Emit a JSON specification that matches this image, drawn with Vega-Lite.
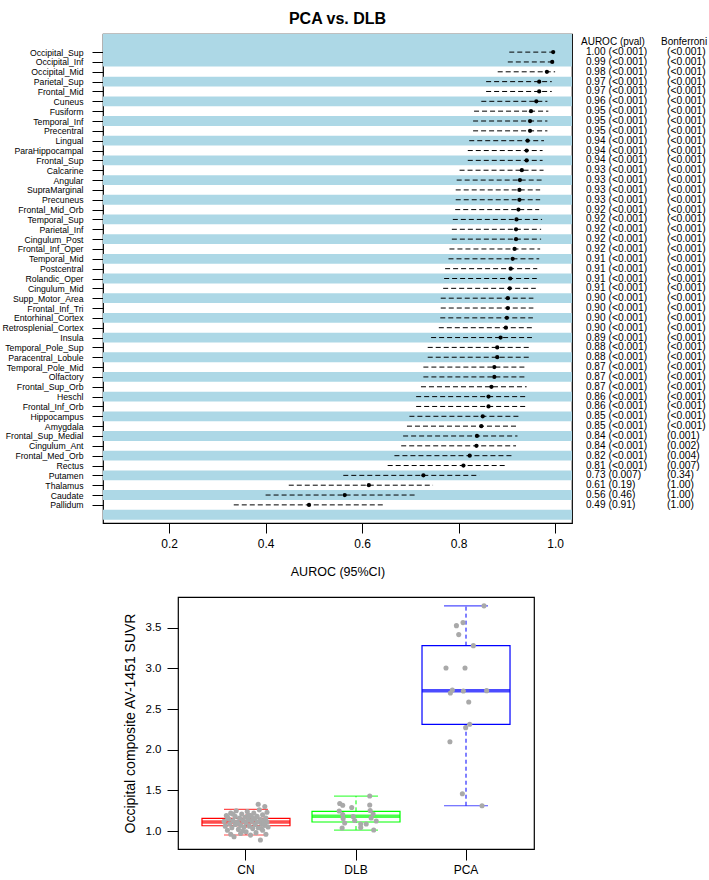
{
  "$schema": "https://vega.github.io/schema/vega-lite/v6.json",
  "background": "white",
  "padding": {"left": 1, "top": 10, "right": 0, "bottom": 0},
  "spacing": 17,
  "config": {
    "font": "Liberation Sans",
    "view": {"stroke": "black", "strokeWidth": 1.2},
    "axis": {"domain": false, "grid": false, "tickColor": "black", "labelColor": "black", "titleColor": "black", "titleFontWeight": "normal"}
  },
  "datasets": {
    "regions": [
      {"row": 1, "region": "Occipital_Sup", "auc": 0.996, "lo": 0.905, "hi": 1.0, "pval": "(<0.001)", "bonf": "(<0.001)"},
      {"row": 2, "region": "Occipital_Inf", "auc": 0.994, "lo": 0.902, "hi": 0.998, "pval": "(<0.001)", "bonf": "(<0.001)"},
      {"row": 3, "region": "Occipital_Mid", "auc": 0.983, "lo": 0.881, "hi": 1.0, "pval": "(<0.001)", "bonf": "(<0.001)"},
      {"row": 4, "region": "Parietal_Sup", "auc": 0.967, "lo": 0.857, "hi": 0.993, "pval": "(<0.001)", "bonf": "(<0.001)"},
      {"row": 5, "region": "Frontal_Mid", "auc": 0.967, "lo": 0.857, "hi": 0.993, "pval": "(<0.001)", "bonf": "(<0.001)"},
      {"row": 6, "region": "Cuneus", "auc": 0.961, "lo": 0.847, "hi": 0.984, "pval": "(<0.001)", "bonf": "(<0.001)"},
      {"row": 7, "region": "Fusiform", "auc": 0.95, "lo": 0.832, "hi": 0.986, "pval": "(<0.001)", "bonf": "(<0.001)"},
      {"row": 8, "region": "Temporal_Inf", "auc": 0.948, "lo": 0.83, "hi": 0.984, "pval": "(<0.001)", "bonf": "(<0.001)"},
      {"row": 9, "region": "Precentral", "auc": 0.948, "lo": 0.83, "hi": 0.984, "pval": "(<0.001)", "bonf": "(<0.001)"},
      {"row": 10, "region": "Lingual", "auc": 0.943, "lo": 0.822, "hi": 0.977, "pval": "(<0.001)", "bonf": "(<0.001)"},
      {"row": 11, "region": "ParaHippocampal", "auc": 0.941, "lo": 0.819, "hi": 0.974, "pval": "(<0.001)", "bonf": "(<0.001)"},
      {"row": 12, "region": "Frontal_Sup", "auc": 0.941, "lo": 0.819, "hi": 0.974, "pval": "(<0.001)", "bonf": "(<0.001)"},
      {"row": 13, "region": "Calcarine", "auc": 0.931, "lo": 0.802, "hi": 0.976, "pval": "(<0.001)", "bonf": "(<0.001)"},
      {"row": 14, "region": "Angular", "auc": 0.927, "lo": 0.796, "hi": 0.972, "pval": "(<0.001)", "bonf": "(<0.001)"},
      {"row": 15, "region": "SupraMarginal", "auc": 0.926, "lo": 0.794, "hi": 0.969, "pval": "(<0.001)", "bonf": "(<0.001)"},
      {"row": 16, "region": "Precuneus", "auc": 0.926, "lo": 0.794, "hi": 0.969, "pval": "(<0.001)", "bonf": "(<0.001)"},
      {"row": 17, "region": "Frontal_Mid_Orb", "auc": 0.924, "lo": 0.793, "hi": 0.967, "pval": "(<0.001)", "bonf": "(<0.001)"},
      {"row": 18, "region": "Temporal_Sup", "auc": 0.92, "lo": 0.788, "hi": 0.973, "pval": "(<0.001)", "bonf": "(<0.001)"},
      {"row": 19, "region": "Parietal_Inf", "auc": 0.919, "lo": 0.786, "hi": 0.971, "pval": "(<0.001)", "bonf": "(<0.001)"},
      {"row": 20, "region": "Cingulum_Post", "auc": 0.919, "lo": 0.786, "hi": 0.971, "pval": "(<0.001)", "bonf": "(<0.001)"},
      {"row": 21, "region": "Frontal_Inf_Oper", "auc": 0.916, "lo": 0.781, "hi": 0.969, "pval": "(<0.001)", "bonf": "(<0.001)"},
      {"row": 22, "region": "Temporal_Mid", "auc": 0.912, "lo": 0.779, "hi": 0.967, "pval": "(<0.001)", "bonf": "(<0.001)"},
      {"row": 23, "region": "Postcentral", "auc": 0.908, "lo": 0.772, "hi": 0.963, "pval": "(<0.001)", "bonf": "(<0.001)"},
      {"row": 24, "region": "Rolandic_Oper", "auc": 0.907, "lo": 0.77, "hi": 0.962, "pval": "(<0.001)", "bonf": "(<0.001)"},
      {"row": 25, "region": "Cingulum_Mid", "auc": 0.906, "lo": 0.768, "hi": 0.96, "pval": "(<0.001)", "bonf": "(<0.001)"},
      {"row": 26, "region": "Supp_Motor_Area", "auc": 0.902, "lo": 0.763, "hi": 0.955, "pval": "(<0.001)", "bonf": "(<0.001)"},
      {"row": 27, "region": "Frontal_Inf_Tri", "auc": 0.902, "lo": 0.763, "hi": 0.955, "pval": "(<0.001)", "bonf": "(<0.001)"},
      {"row": 28, "region": "Entorhinal_Cortex", "auc": 0.9, "lo": 0.762, "hi": 0.954, "pval": "(<0.001)", "bonf": "(<0.001)"},
      {"row": 29, "region": "Retrosplenial_Cortex", "auc": 0.898, "lo": 0.759, "hi": 0.952, "pval": "(<0.001)", "bonf": "(<0.001)"},
      {"row": 30, "region": "Insula", "auc": 0.887, "lo": 0.743, "hi": 0.952, "pval": "(<0.001)", "bonf": "(<0.001)"},
      {"row": 31, "region": "Temporal_Pole_Sup", "auc": 0.88, "lo": 0.736, "hi": 0.947, "pval": "(<0.001)", "bonf": "(<0.001)"},
      {"row": 32, "region": "Paracentral_Lobule", "auc": 0.88, "lo": 0.736, "hi": 0.947, "pval": "(<0.001)", "bonf": "(<0.001)"},
      {"row": 33, "region": "Temporal_Pole_Mid", "auc": 0.874, "lo": 0.727, "hi": 0.938, "pval": "(<0.001)", "bonf": "(<0.001)"},
      {"row": 34, "region": "Olfactory", "auc": 0.874, "lo": 0.727, "hi": 0.938, "pval": "(<0.001)", "bonf": "(<0.001)"},
      {"row": 35, "region": "Frontal_Sup_Orb", "auc": 0.868, "lo": 0.722, "hi": 0.941, "pval": "(<0.001)", "bonf": "(<0.001)"},
      {"row": 36, "region": "Heschl", "auc": 0.862, "lo": 0.712, "hi": 0.938, "pval": "(<0.001)", "bonf": "(<0.001)"},
      {"row": 37, "region": "Frontal_Inf_Orb", "auc": 0.862, "lo": 0.712, "hi": 0.938, "pval": "(<0.001)", "bonf": "(<0.001)"},
      {"row": 38, "region": "Hippocampus", "auc": 0.85, "lo": 0.698, "hi": 0.926, "pval": "(<0.001)", "bonf": "(<0.001)"},
      {"row": 39, "region": "Amygdala", "auc": 0.847, "lo": 0.693, "hi": 0.921, "pval": "(<0.001)", "bonf": "(<0.001)"},
      {"row": 40, "region": "Frontal_Sup_Medial", "auc": 0.838, "lo": 0.685, "hi": 0.922, "pval": "(<0.001)", "bonf": "(0.001)"},
      {"row": 41, "region": "Cingulum_Ant", "auc": 0.837, "lo": 0.681, "hi": 0.919, "pval": "(<0.001)", "bonf": "(0.002)"},
      {"row": 42, "region": "Frontal_Med_Orb", "auc": 0.823, "lo": 0.667, "hi": 0.912, "pval": "(<0.001)", "bonf": "(0.004)"},
      {"row": 43, "region": "Rectus", "auc": 0.81, "lo": 0.653, "hi": 0.9, "pval": "(<0.001)", "bonf": "(0.007)"},
      {"row": 44, "region": "Putamen", "auc": 0.727, "lo": 0.561, "hi": 0.843, "pval": "(0.007)", "bonf": "(0.34)"},
      {"row": 45, "region": "Thalamus", "auc": 0.614, "lo": 0.448, "hi": 0.747, "pval": "(0.19)", "bonf": "(1.00)"},
      {"row": 46, "region": "Caudate", "auc": 0.564, "lo": 0.4, "hi": 0.714, "pval": "(0.46)", "bonf": "(1.00)"},
      {"row": 47, "region": "Pallidum", "auc": 0.49, "lo": 0.334, "hi": 0.648, "pval": "(0.91)", "bonf": "(1.00)"}
    ],
    "stripes": [
      {"from": -0.84, "to": 2.45}, {"from": 3.5, "to": 4.5}, {"from": 5.5, "to": 6.5}, {"from": 7.5, "to": 8.5},
      {"from": 9.5, "to": 10.5}, {"from": 11.5, "to": 12.5}, {"from": 13.5, "to": 14.5}, {"from": 15.5, "to": 16.5},
      {"from": 17.5, "to": 18.5}, {"from": 19.5, "to": 20.5}, {"from": 21.5, "to": 22.5}, {"from": 23.5, "to": 24.5},
      {"from": 25.5, "to": 26.5}, {"from": 27.5, "to": 28.5}, {"from": 29.5, "to": 30.5}, {"from": 31.5, "to": 32.5},
      {"from": 33.5, "to": 34.5}, {"from": 35.5, "to": 36.5}, {"from": 37.5, "to": 38.5}, {"from": 39.5, "to": 40.5},
      {"from": 41.5, "to": 42.5}, {"from": 43.5, "to": 44.5}, {"from": 45.5, "to": 46.5}, {"from": 47.5, "to": 48.5}
    ],
    "headers": [
      {"column": "AUROC (pval)", "row": 0},
      {"column": "Bonferroni", "row": 0}
    ],
    "boxes": [
      {"group": "CN", "lower": 0.951, "q1": 1.065, "median": 1.11, "q3": 1.156, "upper": 1.267},
      {"group": "DLB", "lower": 1.012, "q1": 1.111, "median": 1.181, "q3": 1.242, "upper": 1.43},
      {"group": "PCA", "lower": 1.311, "q1": 2.312, "median": 2.726, "q3": 3.279, "upper": 3.768}
    ],
    "points": [
      {"group": "CN", "xpos": 0.80, "suvr": 1.12}, {"group": "CN", "xpos": 0.81, "suvr": 1.06},
      {"group": "CN", "xpos": 0.82, "suvr": 1.19}, {"group": "CN", "xpos": 0.83, "suvr": 1.01},
      {"group": "CN", "xpos": 0.84, "suvr": 1.15}, {"group": "CN", "xpos": 0.85, "suvr": 1.09},
      {"group": "CN", "xpos": 0.86, "suvr": 1.22}, {"group": "CN", "xpos": 0.86, "suvr": 0.96},
      {"group": "CN", "xpos": 0.87, "suvr": 1.04}, {"group": "CN", "xpos": 0.88, "suvr": 1.13},
      {"group": "CN", "xpos": 0.89, "suvr": 0.93}, {"group": "CN", "xpos": 0.90, "suvr": 1.18},
      {"group": "CN", "xpos": 0.90, "suvr": 1.08}, {"group": "CN", "xpos": 0.91, "suvr": 1.25},
      {"group": "CN", "xpos": 0.92, "suvr": 1.11}, {"group": "CN", "xpos": 0.93, "suvr": 1.02},
      {"group": "CN", "xpos": 0.94, "suvr": 1.16}, {"group": "CN", "xpos": 0.95, "suvr": 0.97},
      {"group": "CN", "xpos": 0.95, "suvr": 1.07}, {"group": "CN", "xpos": 0.96, "suvr": 1.21},
      {"group": "CN", "xpos": 0.97, "suvr": 1.13}, {"group": "CN", "xpos": 0.98, "suvr": 1.05},
      {"group": "CN", "xpos": 0.99, "suvr": 1.17}, {"group": "CN", "xpos": 1.00, "suvr": 1.10},
      {"group": "CN", "xpos": 1.00, "suvr": 0.99}, {"group": "CN", "xpos": 1.01, "suvr": 1.24},
      {"group": "CN", "xpos": 1.02, "suvr": 1.14}, {"group": "CN", "xpos": 1.03, "suvr": 1.06},
      {"group": "CN", "xpos": 1.04, "suvr": 1.19}, {"group": "CN", "xpos": 1.04, "suvr": 0.95},
      {"group": "CN", "xpos": 1.05, "suvr": 1.12}, {"group": "CN", "xpos": 1.06, "suvr": 1.03},
      {"group": "CN", "xpos": 1.07, "suvr": 1.22}, {"group": "CN", "xpos": 1.08, "suvr": 1.15},
      {"group": "CN", "xpos": 1.08, "suvr": 1.08}, {"group": "CN", "xpos": 1.09, "suvr": 0.98},
      {"group": "CN", "xpos": 1.10, "suvr": 1.18}, {"group": "CN", "xpos": 1.10, "suvr": 1.11},
      {"group": "CN", "xpos": 1.11, "suvr": 1.33}, {"group": "CN", "xpos": 1.11, "suvr": 1.04},
      {"group": "CN", "xpos": 1.12, "suvr": 1.26}, {"group": "CN", "xpos": 1.13, "suvr": 1.14},
      {"group": "CN", "xpos": 1.13, "suvr": 0.89}, {"group": "CN", "xpos": 1.14, "suvr": 1.09},
      {"group": "CN", "xpos": 1.15, "suvr": 1.20}, {"group": "CN", "xpos": 1.15, "suvr": 1.01},
      {"group": "CN", "xpos": 1.16, "suvr": 1.13}, {"group": "CN", "xpos": 1.17, "suvr": 1.07},
      {"group": "CN", "xpos": 1.17, "suvr": 1.30}, {"group": "CN", "xpos": 1.18, "suvr": 1.16},
      {"group": "CN", "xpos": 1.18, "suvr": 0.96}, {"group": "CN", "xpos": 1.19, "suvr": 1.11},
      {"group": "CN", "xpos": 1.19, "suvr": 1.23}, {"group": "CN", "xpos": 1.20, "suvr": 1.05},
      {"group": "CN", "xpos": 0.83, "suvr": 1.17}, {"group": "CN", "xpos": 0.88, "suvr": 1.21},
      {"group": "CN", "xpos": 0.93, "suvr": 1.09}, {"group": "CN", "xpos": 0.97, "suvr": 1.00},
      {"group": "CN", "xpos": 1.02, "suvr": 1.20}, {"group": "CN", "xpos": 1.06, "suvr": 1.16},
      {"group": "CN", "xpos": 1.14, "suvr": 1.03}, {"group": "CN", "xpos": 1.16, "suvr": 1.10},
      {"group": "DLB", "xpos": 2.125, "suvr": 1.43}, {"group": "DLB", "xpos": 1.852, "suvr": 1.338},
      {"group": "DLB", "xpos": 1.879, "suvr": 1.316}, {"group": "DLB", "xpos": 1.961, "suvr": 1.289},
      {"group": "DLB", "xpos": 2.125, "suvr": 1.32}, {"group": "DLB", "xpos": 1.847, "suvr": 1.246},
      {"group": "DLB", "xpos": 2.129, "suvr": 1.252}, {"group": "DLB", "xpos": 1.879, "suvr": 1.203},
      {"group": "DLB", "xpos": 2.156, "suvr": 1.209}, {"group": "DLB", "xpos": 1.974, "suvr": 1.178},
      {"group": "DLB", "xpos": 1.883, "suvr": 1.154}, {"group": "DLB", "xpos": 2.138, "suvr": 1.16},
      {"group": "DLB", "xpos": 1.988, "suvr": 1.129}, {"group": "DLB", "xpos": 2.184, "suvr": 1.123},
      {"group": "DLB", "xpos": 1.897, "suvr": 1.098}, {"group": "DLB", "xpos": 2.043, "suvr": 1.086},
      {"group": "DLB", "xpos": 2.093, "suvr": 1.086}, {"group": "DLB", "xpos": 1.874, "suvr": 1.037},
      {"group": "DLB", "xpos": 2.043, "suvr": 1.043}, {"group": "DLB", "xpos": 2.161, "suvr": 1.012},
      {"group": "PCA", "xpos": 3.165, "suvr": 3.768}, {"group": "PCA", "xpos": 2.974, "suvr": 3.562},
      {"group": "PCA", "xpos": 2.914, "suvr": 3.525}, {"group": "PCA", "xpos": 2.935, "suvr": 3.415},
      {"group": "PCA", "xpos": 3.068, "suvr": 3.279}, {"group": "PCA", "xpos": 2.819, "suvr": 3.005},
      {"group": "PCA", "xpos": 2.992, "suvr": 3.005}, {"group": "PCA", "xpos": 2.877, "suvr": 2.734},
      {"group": "PCA", "xpos": 2.859, "suvr": 2.697}, {"group": "PCA", "xpos": 2.977, "suvr": 2.722},
      {"group": "PCA", "xpos": 3.189, "suvr": 2.726}, {"group": "PCA", "xpos": 3.026, "suvr": 2.587},
      {"group": "PCA", "xpos": 3.035, "suvr": 2.312}, {"group": "PCA", "xpos": 2.998, "suvr": 2.271},
      {"group": "PCA", "xpos": 2.855, "suvr": 2.098}, {"group": "PCA", "xpos": 2.968, "suvr": 1.459},
      {"group": "PCA", "xpos": 3.147, "suvr": 1.311}
    ]
  },
  "vconcat": [
    {
      "width": 469,
      "height": 489,
      "title": {"text": "PCA vs. DLB", "fontSize": 16, "fontWeight": "bold", "frame": "group", "anchor": "middle", "baseline": "bottom", "offset": -9, "color": "black"},
      "layer": [
        {
          "data": {"name": "stripes"},
          "mark": {"type": "rect", "color": "#ADD8E6"},
          "encoding": {
            "y": {"field": "from", "type": "quantitative", "scale": {"domain": [-0.84, 48.84], "reverse": true, "nice": false, "zero": false}, "axis": null},
            "y2": {"field": "to"}
          }
        },
        {
          "mark": {"type": "rule", "color": "black", "strokeWidth": 1},
          "encoding": {
            "x": {"datum": 0.5, "type": "quantitative", "scale": {"domain": [0.063, 1.035], "nice": false, "zero": false}, "axis": null}
          }
        },
        {
          "data": {"name": "regions"},
          "mark": {"type": "rule", "color": "black", "strokeWidth": 1, "strokeDash": [5, 3]},
          "encoding": {
            "x": {"field": "lo", "type": "quantitative", "scale": {"domain": [0.063, 1.035], "nice": false, "zero": false}, "axis": null},
            "x2": {"field": "hi"},
            "y": {"field": "region", "type": "nominal",
                  "scale": {"type": "point", "padding": 0.84, "domain": ["~top", "Occipital_Sup", "Occipital_Inf", "Occipital_Mid", "Parietal_Sup", "Frontal_Mid", "Cuneus", "Fusiform", "Temporal_Inf", "Precentral", "Lingual", "ParaHippocampal", "Frontal_Sup", "Calcarine", "Angular", "SupraMarginal", "Precuneus", "Frontal_Mid_Orb", "Temporal_Sup", "Parietal_Inf", "Cingulum_Post", "Frontal_Inf_Oper", "Temporal_Mid", "Postcentral", "Rolandic_Oper", "Cingulum_Mid", "Supp_Motor_Area", "Frontal_Inf_Tri", "Entorhinal_Cortex", "Retrosplenial_Cortex", "Insula", "Temporal_Pole_Sup", "Paracentral_Lobule", "Temporal_Pole_Mid", "Olfactory", "Frontal_Sup_Orb", "Heschl", "Frontal_Inf_Orb", "Hippocampus", "Amygdala", "Frontal_Sup_Medial", "Cingulum_Ant", "Frontal_Med_Orb", "Rectus", "Putamen", "Thalamus", "Caudate", "Pallidum", "~bottom"]},
                  "axis": {"title": null, "tickSize": 11, "labelFontSize": 8.7, "labelPadding": 9,
                           "values": ["Occipital_Sup", "Occipital_Inf", "Occipital_Mid", "Parietal_Sup", "Frontal_Mid", "Cuneus", "Fusiform", "Temporal_Inf", "Precentral", "Lingual", "ParaHippocampal", "Frontal_Sup", "Calcarine", "Angular", "SupraMarginal", "Precuneus", "Frontal_Mid_Orb", "Temporal_Sup", "Parietal_Inf", "Cingulum_Post", "Frontal_Inf_Oper", "Temporal_Mid", "Postcentral", "Rolandic_Oper", "Cingulum_Mid", "Supp_Motor_Area", "Frontal_Inf_Tri", "Entorhinal_Cortex", "Retrosplenial_Cortex", "Insula", "Temporal_Pole_Sup", "Paracentral_Lobule", "Temporal_Pole_Mid", "Olfactory", "Frontal_Sup_Orb", "Heschl", "Frontal_Inf_Orb", "Hippocampus", "Amygdala", "Frontal_Sup_Medial", "Cingulum_Ant", "Frontal_Med_Orb", "Rectus", "Putamen", "Thalamus", "Caudate", "Pallidum"]}}
          }
        },
        {
          "data": {"name": "regions"},
          "mark": {"type": "point", "filled": true, "color": "black", "size": 18, "opacity": 1},
          "encoding": {
            "x": {"field": "auc", "type": "quantitative", "scale": {"domain": [0.063, 1.035], "nice": false, "zero": false},
                  "axis": {"values": [0.2, 0.4, 0.6, 0.8, 1.0], "format": ".1f", "tickSize": 10, "labelFontSize": 12, "labelPadding": 5, "title": "AUROC (95%CI)", "titleFontSize": 12.5, "titlePadding": 16}},
            "y": {"field": "row", "type": "quantitative", "scale": {"domain": [-0.84, 48.84], "reverse": true, "nice": false, "zero": false}, "axis": null}
          }
        },
        {
          "data": {"name": "regions"},
          "mark": {"type": "text", "align": "left", "baseline": "middle", "fontSize": 10, "dx": 5, "color": "black"},
          "encoding": {
            "x": {"datum": "AUROC (pval)", "type": "nominal", "scale": {"type": "point", "domain": ["AUROC (pval)", "Bonferroni"], "range": [478, 558], "padding": 0}, "axis": null},
            "y": {"field": "row", "type": "quantitative", "scale": {"domain": [-0.84, 48.84], "reverse": true, "nice": false, "zero": false}, "axis": null},
            "text": {"field": "auc", "type": "quantitative", "format": ".2f"}
          }
        },
        {
          "data": {"name": "regions"},
          "mark": {"type": "text", "align": "left", "baseline": "middle", "fontSize": 10.3, "dx": 27.5, "color": "black"},
          "encoding": {
            "x": {"datum": "AUROC (pval)", "type": "nominal", "scale": {"type": "point", "domain": ["AUROC (pval)", "Bonferroni"], "range": [478, 558], "padding": 0}, "axis": null},
            "y": {"field": "row", "type": "quantitative", "scale": {"domain": [-0.84, 48.84], "reverse": true, "nice": false, "zero": false}, "axis": null},
            "text": {"field": "pval", "type": "nominal"}
          }
        },
        {
          "data": {"name": "regions"},
          "mark": {"type": "text", "align": "left", "baseline": "middle", "fontSize": 10.3, "dx": 6, "color": "black"},
          "encoding": {
            "x": {"datum": "Bonferroni", "type": "nominal", "scale": {"type": "point", "domain": ["AUROC (pval)", "Bonferroni"], "range": [478, 558], "padding": 0}, "axis": null},
            "y": {"field": "row", "type": "quantitative", "scale": {"domain": [-0.84, 48.84], "reverse": true, "nice": false, "zero": false}, "axis": null},
            "text": {"field": "bonf", "type": "nominal"}
          }
        },
        {
          "data": {"name": "headers"},
          "mark": {"type": "text", "align": "left", "baseline": "middle", "fontSize": 10, "color": "black"},
          "encoding": {
            "x": {"field": "column", "type": "nominal", "scale": {"type": "point", "domain": ["AUROC (pval)", "Bonferroni"], "range": [478, 558], "padding": 0}, "axis": null},
            "y": {"field": "row", "type": "quantitative", "scale": {"domain": [-0.84, 48.84], "reverse": true, "nice": false, "zero": false}, "axis": null},
            "text": {"field": "column", "type": "nominal"}
          }
        }
      ],
      "resolve": {"scale": {"x": "independent", "y": "independent"}}
    },
    {
      "spacing": 0,
      "hconcat": [
        {
          "width": 19,
          "height": 10,
          "view": {"stroke": null},
          "data": {"values": []},
          "mark": {"type": "point", "opacity": 0},
          "encoding": {}
        },
        {
          "width": 356,
          "height": 252,
          "layer": [
            {
              "data": {"name": "boxes"},
              "mark": {"type": "rule", "strokeWidth": 1, "strokeDash": [4, 3]},
              "encoding": {
                "x": {"field": "group", "type": "nominal", "scale": {"type": "band", "domain": ["CN", "DLB", "PCA"], "paddingInner": 0.2, "paddingOuter": 0.218}, "axis": null},
                "y": {"field": "lower", "type": "quantitative", "scale": {"domain": [0.779, 3.877], "nice": false, "zero": false}},
                "y2": {"field": "q1"},
                "color": {"field": "group", "type": "nominal", "scale": {"domain": ["CN", "DLB", "PCA"], "range": ["#FF0000", "#00FF00", "#0000FF"]}, "legend": null}
              }
            },
            {
              "data": {"name": "boxes"},
              "mark": {"type": "rule", "strokeWidth": 1, "strokeDash": [4, 3]},
              "encoding": {
                "x": {"field": "group", "type": "nominal", "scale": {"type": "band", "domain": ["CN", "DLB", "PCA"], "paddingInner": 0.2, "paddingOuter": 0.218}, "axis": null},
                "y": {"field": "q3", "type": "quantitative"},
                "y2": {"field": "upper"},
                "color": {"field": "group", "type": "nominal", "scale": {"domain": ["CN", "DLB", "PCA"], "range": ["#FF0000", "#00FF00", "#0000FF"]}, "legend": null}
              }
            },
            {
              "data": {"name": "boxes"},
              "mark": {"type": "bar", "fill": "white", "fillOpacity": 0, "strokeWidth": 1.2},
              "encoding": {
                "x": {"field": "group", "type": "nominal", "scale": {"type": "band", "domain": ["CN", "DLB", "PCA"], "paddingInner": 0.2, "paddingOuter": 0.218},
                      "axis": {"title": null, "labelAngle": 0, "tickSize": 11, "labelFontSize": 12, "labelPadding": 4}},
                "y": {"field": "q1", "type": "quantitative"},
                "y2": {"field": "q3"},
                "stroke": {"field": "group", "type": "nominal", "scale": {"domain": ["CN", "DLB", "PCA"], "range": ["#FF0000", "#00FF00", "#0000FF"]}, "legend": null}
              }
            },
            {
              "data": {"name": "boxes"},
              "mark": {"type": "tick", "orient": "horizontal", "size": 44, "thickness": 1.2},
              "encoding": {
                "x": {"field": "group", "type": "nominal", "scale": {"type": "band", "domain": ["CN", "DLB", "PCA"], "paddingInner": 0.2, "paddingOuter": 0.218}, "axis": null},
                "y": {"field": "lower", "type": "quantitative"},
                "color": {"field": "group", "type": "nominal", "scale": {"domain": ["CN", "DLB", "PCA"], "range": ["#FF0000", "#00FF00", "#0000FF"]}, "legend": null}
              }
            },
            {
              "data": {"name": "boxes"},
              "mark": {"type": "tick", "orient": "horizontal", "size": 44, "thickness": 1.2},
              "encoding": {
                "x": {"field": "group", "type": "nominal", "scale": {"type": "band", "domain": ["CN", "DLB", "PCA"], "paddingInner": 0.2, "paddingOuter": 0.218}, "axis": null},
                "y": {"field": "upper", "type": "quantitative"},
                "color": {"field": "group", "type": "nominal", "scale": {"domain": ["CN", "DLB", "PCA"], "range": ["#FF0000", "#00FF00", "#0000FF"]}, "legend": null}
              }
            },
            {
              "data": {"name": "boxes"},
              "mark": {"type": "tick", "orient": "horizontal", "size": 88, "thickness": 3.5},
              "encoding": {
                "x": {"field": "group", "type": "nominal", "scale": {"type": "band", "domain": ["CN", "DLB", "PCA"], "paddingInner": 0.2, "paddingOuter": 0.218}, "axis": null},
                "y": {"field": "median", "type": "quantitative"},
                "color": {"field": "group", "type": "nominal", "scale": {"domain": ["CN", "DLB", "PCA"], "range": ["#FF0000", "#00FF00", "#0000FF"]}, "legend": null}
              }
            },
            {
              "data": {"name": "points"},
              "mark": {"type": "circle", "color": "#A9A9A9", "size": 26, "opacity": 1},
              "encoding": {
                "x": {"field": "xpos", "type": "quantitative", "scale": {"domain": [0.38, 3.62], "nice": false, "zero": false}, "axis": null},
                "y": {"field": "suvr", "type": "quantitative",
                      "axis": {"values": [1.0, 1.5, 2.0, 2.5, 3.0, 3.5], "format": ".1f", "tickSize": 11, "labelFontSize": 11.5, "labelPadding": 6, "title": "Occipital composite AV-1451 SUVR", "titleFontSize": 14, "titlePadding": 8}}
              }
            }
          ],
          "resolve": {"scale": {"x": "independent", "color": "independent", "stroke": "independent"}}
        }
      ]
    }
  ]
}
